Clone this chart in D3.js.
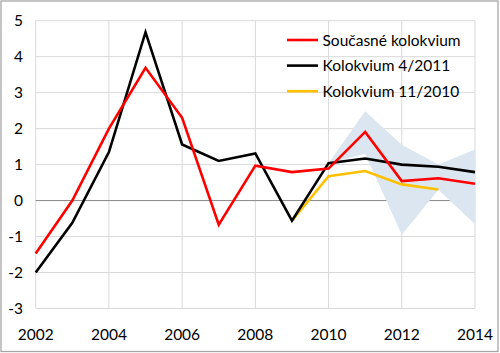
<!DOCTYPE html>
<html>
<head>
<meta charset="utf-8">
<script src="https://cdn.jsdelivr.net/npm/d3@7"></script>
<style>
  body { margin: 0; background: #fff; }
  text { font-family: Lato, "Open Sans", sans-serif; fill: #000; }
</style>
</head>
<body>
<div id="chart"></div>
<script>
const years = [2002, 2003, 2004, 2005, 2006, 2007, 2008, 2009, 2010, 2011, 2012, 2013, 2014];
const soucasne = [-1.47, 0.0, 2.0, 3.69, 2.3, -0.67, 0.97, 0.79, 0.89, 1.91, 0.54, 0.62, 0.47];
const kol2011 = [-2.0, -0.62, 1.35, 4.68, 1.56, 1.1, 1.31, -0.56, 1.04, 1.17, 1.0, 0.94, 0.79];
const kol2010Years = [2009, 2010, 2011, 2012, 2013];
const kol2010 = [-0.56, 0.68, 0.82, 0.45, 0.31];
const bandYears = [2010, 2011, 2012, 2013, 2014];
const bandUpper = [1.04, 2.48, 1.55, 1.0, 1.42];
const bandLower = [1.04, 1.3, -0.95, 0.3, -0.66];
const yTicks = [-3, -2, -1, 0, 1, 2, 3, 4, 5];
const xTicks = [2002, 2004, 2006, 2008, 2010, 2012, 2014];
const legendNames = ["Současné kolokvium", "Kolokvium 4/2011", "Kolokvium 11/2010"];
const colors = ["#ff0000", "#000000", "#ffc000"];

const width = 500, height = 353;
const margin = { top: 20.7, right: 25, bottom: 44.5, left: 35.7 };

const svg = d3.select("#chart").append("svg")
  .attr("width", width).attr("height", height);

// outer border
svg.append("rect")
  .attr("x", 1).attr("y", 1)
  .attr("width", width - 3).attr("height", height - 2.5)
  .attr("fill", "#fff").attr("stroke", "#a6a6a6").attr("stroke-width", 1.3);

const x = d3.scaleLinear().domain([2002, 2014]).range([margin.left, width - margin.right]);
const y = d3.scaleLinear().domain([-3, 5]).range([height - margin.bottom, margin.top]);

// gridlines
svg.append("g").selectAll("line.h")
  .data(yTicks.filter(d => d !== 0))
  .join("line")
  .attr("x1", x(2002)).attr("x2", x(2014))
  .attr("y1", d => y(d)).attr("y2", d => y(d))
  .attr("stroke", "#d9d9d9").attr("stroke-width", 1);

svg.append("g").selectAll("line.v")
  .data(xTicks)
  .join("line")
  .attr("x1", d => x(d)).attr("x2", d => x(d))
  .attr("y1", y(5)).attr("y2", y(-3))
  .attr("stroke", "#d9d9d9").attr("stroke-width", 1);

svg.append("line")
  .attr("x1", x(2002)).attr("x2", x(2014))
  .attr("y1", y(0)).attr("y2", y(0))
  .attr("stroke", "#898989").attr("stroke-width", 1);

// band
const band = bandYears.map((yr, i) => ({ yr, lo: bandLower[i], hi: bandUpper[i] }));
svg.append("path")
  .datum(band)
  .attr("fill", "#dce6f0")
  .attr("d", d3.area().x(d => x(d.yr)).y0(d => y(d.lo)).y1(d => y(d.hi)));

const line = d3.line().x(d => x(d[0])).y(d => y(d[1]));
const series = [
  { c: colors[2], pts: kol2010Years.map((yr, i) => [yr, kol2010[i]]) },
  { c: colors[1], pts: years.map((yr, i) => [yr, kol2011[i]]) },
  { c: colors[0], pts: years.map((yr, i) => [yr, soucasne[i]]) }
];
series.forEach(s => {
  svg.append("path")
    .attr("d", line(s.pts))
    .attr("fill", "none")
    .attr("stroke", s.c)
    .attr("stroke-width", 2.6)
    .attr("stroke-linejoin", "miter");
});

// y labels
svg.append("g").selectAll("text")
  .data(yTicks)
  .join("text")
  .attr("x", 23)
  .attr("y", d => y(d))
  .attr("dy", "0.36em")
  .attr("text-anchor", "end")
  .style("font-size", "15.5px")
  .text(d => d);

// x labels
svg.append("g").selectAll("text")
  .data(xTicks)
  .join("text")
  .attr("x", d => x(d))
  .attr("y", 339.5)
  .attr("text-anchor", "middle")
  .style("font-size", "15.5px")
  .text(d => d);

// legend
const lg = svg.append("g");
legendNames.forEach((name, i) => {
  const ly = 40 + i * 25.6;
  lg.append("line")
    .attr("x1", 287).attr("x2", 318)
    .attr("y1", ly).attr("y2", ly)
    .attr("stroke", colors[i]).attr("stroke-width", 2.6);
  lg.append("text")
    .attr("x", 322.5).attr("y", ly)
    .attr("dy", "0.36em")
    .style("font-size", "15.5px")
    .text(name);
});
</script>
</body>
</html>
